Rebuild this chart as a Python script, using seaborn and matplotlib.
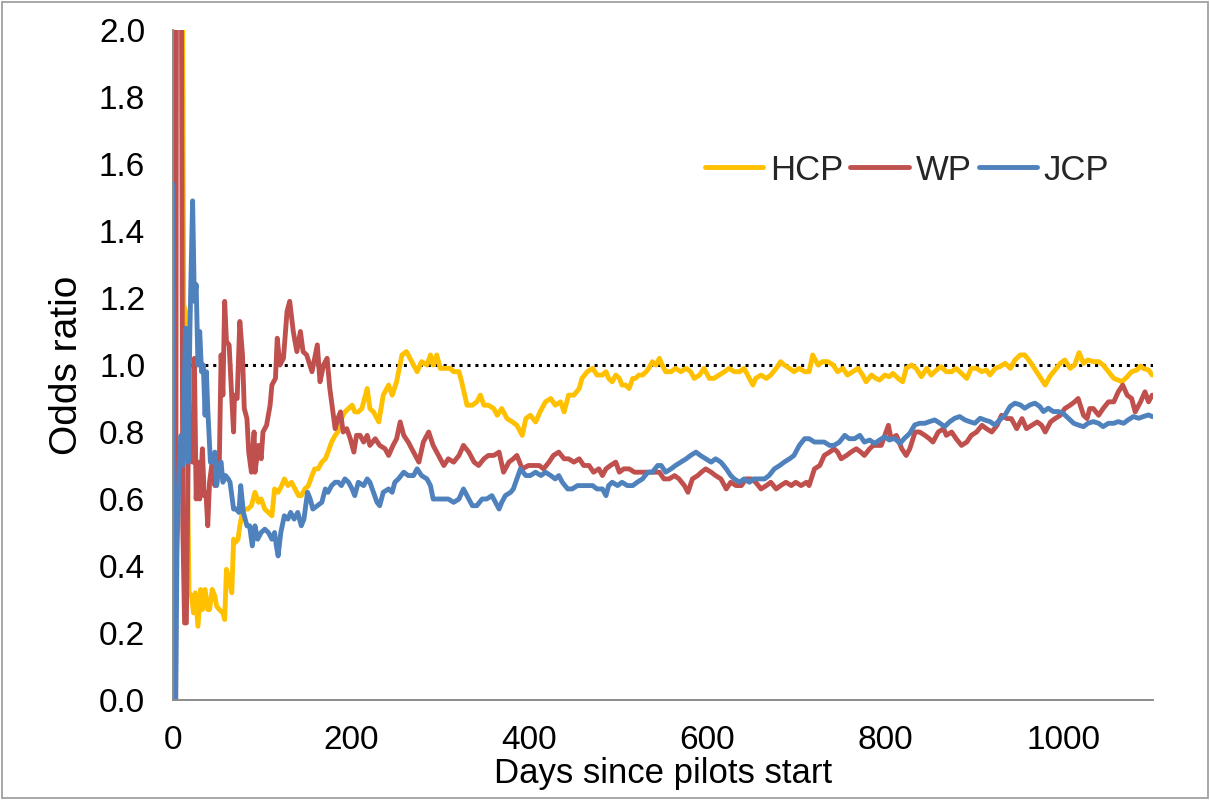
import pandas as pd
import matplotlib
matplotlib.use("Agg")
import matplotlib.pyplot as plt
from matplotlib.patches import Rectangle
import seaborn as sns

# ---- data: cumulative odds ratio (day, value) by days since pilots started ----
series_names = ["HCP", "WP", "JCP"]

hcp_points = [
    (0, 0.19), (1, 2.6), (10, 2.6), (12, 1.18), (14, 1.16), (16, 0.75), (18, 0.32), (21, 0.31), (23, 0.26),
    (25, 0.32), (28, 0.22), (31, 0.33), (33, 0.27), (36, 0.33), (39, 0.27), (41, 0.27), (44, 0.33), (47, 0.31),
    (49, 0.28), (52, 0.27), (56, 0.26), (58, 0.24), (60, 0.39), (63, 0.36), (66, 0.32), (68, 0.48), (70, 0.47),
    (73, 0.48), (75, 0.52), (78, 0.56), (80, 0.57), (84, 0.57), (88, 0.58), (92, 0.62), (96, 0.59), (99, 0.60),
    (103, 0.57), (107, 0.56), (111, 0.55), (114, 0.63), (118, 0.62), (122, 0.64), (125, 0.66), (129, 0.64),
    (133, 0.65), (137, 0.63), (141, 0.61), (144, 0.61), (148, 0.63), (152, 0.64), (156, 0.67), (159, 0.69),
    (163, 0.69), (167, 0.71), (171, 0.72), (174, 0.74), (178, 0.77), (182, 0.79), (185, 0.80), (189, 0.84),
    (193, 0.86), (197, 0.87), (201, 0.88), (204, 0.86), (208, 0.86), (212, 0.87), (218, 0.93), (221, 0.87),
    (225, 0.86), (231, 0.83), (236, 0.91), (242, 0.94), (246, 0.91), (251, 0.95), (257, 1.03), (262, 1.04),
    (268, 1.01), (274, 0.98), (279, 1.01), (285, 1.00), (289, 1.03), (292, 1.00), (296, 1.03), (300, 0.99),
    (306, 0.99), (311, 0.99), (315, 0.98), (321, 0.98), (324, 0.95), (330, 0.88), (336, 0.88), (341, 0.89),
    (345, 0.91), (349, 0.88), (354, 0.88), (360, 0.87), (364, 0.85), (369, 0.87), (375, 0.84), (381, 0.83),
    (386, 0.82), (392, 0.79), (396, 0.84), (401, 0.85), (407, 0.83), (412, 0.86), (418, 0.89), (424, 0.90),
    (429, 0.88), (435, 0.89), (439, 0.86), (444, 0.91), (450, 0.91), (456, 0.93), (459, 0.96), (465, 0.98),
    (471, 0.99), (476, 0.97), (482, 0.97), (486, 0.98), (489, 0.96), (493, 0.95), (497, 0.97), (501, 0.96),
    (504, 0.94), (508, 0.94), (512, 0.93), (516, 0.96), (519, 0.96), (523, 0.97), (527, 0.97), (531, 0.98),
    (534, 0.99), (538, 1.01), (542, 1.00), (546, 1.02), (549, 1.00), (553, 0.98), (559, 0.98), (564, 0.99),
    (570, 0.98), (576, 0.99), (581, 0.98), (585, 0.96), (591, 0.97), (596, 0.99), (602, 0.96), (607, 0.96),
    (613, 0.97), (619, 0.98), (624, 0.99), (630, 0.98), (636, 0.98), (641, 0.99), (645, 0.97), (651, 0.94),
    (654, 0.96), (660, 0.97), (666, 0.96), (671, 0.97), (677, 0.99), (682, 1.01), (686, 1.00), (692, 0.99),
    (697, 0.98), (703, 0.99), (709, 0.98), (714, 0.98), (718, 1.03), (724, 1.00), (729, 1.01), (735, 1.01),
    (741, 1.00), (746, 0.98), (752, 0.99), (757, 0.97), (763, 0.98), (769, 0.99), (774, 0.97), (778, 0.95),
    (784, 0.97), (789, 0.96), (793, 0.955), (799, 0.97), (804, 0.965), (808, 0.975), (814, 0.96), (819, 0.95),
    (823, 0.99), (829, 1.00), (834, 0.99), (840, 0.965), (846, 0.99), (851, 0.97), (857, 0.985), (862, 0.995),
    (868, 0.98), (874, 0.98), (879, 0.99), (885, 0.975), (891, 0.96), (896, 0.99), (902, 0.99), (908, 0.98),
    (913, 0.985), (917, 0.97), (923, 0.99), (928, 0.995), (934, 1.005), (940, 0.99), (945, 1.015), (951, 1.03),
    (956, 1.03), (962, 1.01), (968, 0.985), (973, 0.965), (979, 0.94), (984, 0.965), (990, 0.985), (996, 1.005),
    (1001, 1.015), (1007, 0.99), (1012, 1.00), (1017, 1.037), (1022, 1.005), (1027, 1.015), (1033, 1.01),
    (1039, 1.01), (1044, 1.00), (1050, 0.98), (1056, 0.96), (1061, 0.955), (1065, 0.95), (1071, 0.965),
    (1076, 0.98), (1082, 0.985), (1086, 0.997), (1089, 0.99), (1095, 0.985), (1099, 0.97),
]

wp_points = [
    (3, 0.0), (4, 2.6), (7, 2.6), (9, 2.6), (11, 0.52), (13, 0.23), (15, 0.23), (17, 0.71), (19, 0.78),
    (22, 0.71), (24, 1.02), (26, 0.60), (28, 0.71), (30, 0.60), (33, 0.75), (35, 0.61), (37, 0.62), (39, 0.52),
    (41, 0.65), (44, 0.71), (47, 0.64), (49, 0.71), (52, 0.71), (54, 1.03), (56, 0.91), (58, 1.19), (60, 1.07),
    (63, 1.06), (66, 0.90), (68, 0.80), (69, 0.91), (72, 0.90), (75, 1.13), (78, 1.03), (80, 0.87), (83, 0.84),
    (85, 0.74), (88, 0.68), (91, 0.80), (92, 0.68), (94, 0.72), (96, 0.76), (99, 0.72), (101, 0.80), (105, 0.82),
    (109, 0.88), (111, 0.94), (115, 0.96), (117, 1.08), (120, 1.00), (124, 1.02), (128, 1.16), (131, 1.19),
    (135, 1.10), (139, 1.04), (143, 1.10), (146, 1.04), (150, 1.03), (156, 0.98), (162, 1.06), (165, 0.95),
    (169, 1.00), (173, 1.02), (176, 0.93), (182, 0.81), (185, 0.84), (188, 0.86), (191, 0.80), (195, 0.81),
    (199, 0.78), (203, 0.74), (206, 0.79), (210, 0.79), (214, 0.77), (218, 0.79), (221, 0.76), (227, 0.78),
    (232, 0.76), (238, 0.75), (242, 0.73), (247, 0.76), (251, 0.78), (255, 0.83), (259, 0.79), (264, 0.77),
    (270, 0.74), (276, 0.71), (281, 0.77), (287, 0.80), (292, 0.76), (298, 0.73), (304, 0.70), (309, 0.72),
    (315, 0.71), (321, 0.73), (326, 0.76), (332, 0.74), (338, 0.71), (343, 0.70), (349, 0.72), (354, 0.73),
    (360, 0.73), (366, 0.74), (371, 0.68), (377, 0.71), (382, 0.72), (386, 0.73), (392, 0.69), (399, 0.70),
    (405, 0.70), (411, 0.70), (416, 0.69), (422, 0.71), (427, 0.73), (433, 0.74), (439, 0.72), (444, 0.72),
    (450, 0.71), (456, 0.72), (461, 0.70), (467, 0.70), (472, 0.68), (478, 0.69), (482, 0.67), (486, 0.69),
    (491, 0.70), (497, 0.71), (501, 0.68), (506, 0.69), (512, 0.69), (518, 0.68), (523, 0.68), (529, 0.68),
    (534, 0.68), (540, 0.68), (546, 0.68), (551, 0.66), (557, 0.66), (563, 0.67), (568, 0.66), (574, 0.64),
    (578, 0.62), (583, 0.66), (589, 0.67), (593, 0.68), (598, 0.69), (604, 0.68), (609, 0.67), (615, 0.66),
    (621, 0.63), (626, 0.65), (632, 0.64), (638, 0.64), (643, 0.66), (649, 0.66), (654, 0.65), (660, 0.63),
    (666, 0.64), (671, 0.65), (677, 0.63), (682, 0.64), (688, 0.65), (694, 0.64), (699, 0.65), (705, 0.64),
    (711, 0.65), (714, 0.64), (720, 0.69), (726, 0.70), (731, 0.73), (737, 0.74), (742, 0.75), (746, 0.74),
    (750, 0.72), (756, 0.73), (761, 0.74), (767, 0.75), (772, 0.74), (776, 0.73), (782, 0.75), (786, 0.76),
    (790, 0.76), (795, 0.76), (799, 0.79), (803, 0.82), (806, 0.78), (812, 0.79), (818, 0.75), (823, 0.73),
    (827, 0.75), (833, 0.80), (838, 0.80), (844, 0.79), (849, 0.78), (853, 0.77), (859, 0.80), (865, 0.81),
    (868, 0.79), (874, 0.80), (879, 0.78), (885, 0.76), (891, 0.77), (896, 0.79), (902, 0.80), (908, 0.82),
    (913, 0.81), (919, 0.80), (925, 0.82), (930, 0.85), (936, 0.84), (941, 0.84), (947, 0.81), (953, 0.84),
    (958, 0.81), (964, 0.82), (970, 0.83), (975, 0.82), (979, 0.80), (985, 0.83), (990, 0.84), (996, 0.85),
    (1001, 0.87), (1007, 0.88), (1012, 0.89), (1016, 0.90), (1022, 0.85), (1026, 0.84), (1029, 0.87),
    (1033, 0.87), (1039, 0.85), (1044, 0.87), (1050, 0.89), (1056, 0.89), (1061, 0.92), (1066, 0.94),
    (1071, 0.91), (1076, 0.90), (1080, 0.86), (1086, 0.89), (1091, 0.92), (1095, 0.89), (1099, 0.91),
]

jcp_points = [
    (0, 1.54), (1, 0.0), (3, 0.0), (4.5, 0.45), (7, 0.71), (9, 0.79), (11, 0.70), (14, 1.11), (17, 0.71),
    (19, 1.11), (22, 1.49), (24, 1.19), (26, 1.24), (28, 1.00), (30, 1.10), (32, 0.98), (34, 1.00), (36, 0.85),
    (37.5, 0.98), (39, 0.87), (42, 0.71), (44, 0.71), (47, 0.74), (49, 0.64), (52, 0.70), (54, 0.71), (56, 0.65),
    (59, 0.67), (62, 0.66), (64, 0.65), (66, 0.61), (68, 0.57), (71, 0.57), (74, 0.56), (76, 0.64), (79, 0.56),
    (83, 0.52), (86, 0.52), (89, 0.46), (92, 0.52), (95, 0.48), (99, 0.50), (103, 0.51), (107, 0.50), (111, 0.48),
    (114, 0.50), (116, 0.46), (118, 0.43), (121, 0.50), (125, 0.55), (129, 0.54), (132, 0.56), (136, 0.54),
    (140, 0.56), (144, 0.52), (147, 0.54), (151, 0.62), (154, 0.60), (157, 0.57), (162, 0.58), (167, 0.59),
    (171, 0.63), (174, 0.62), (178, 0.64), (182, 0.65), (185.6, 0.65), (189, 0.64), (193, 0.66), (197, 0.65),
    (201, 0.63), (204, 0.61), (208, 0.65), (214, 0.64), (218, 0.66), (221, 0.65), (225, 0.62), (229, 0.59),
    (232, 0.58), (236, 0.62), (242, 0.63), (246, 0.62), (249, 0.65), (253, 0.66), (259, 0.68), (264, 0.67),
    (270, 0.67), (274, 0.69), (279, 0.67), (285, 0.66), (289, 0.64), (292, 0.60), (298, 0.60), (304, 0.60),
    (309, 0.60), (315, 0.59), (321, 0.60), (326, 0.63), (332, 0.60), (336, 0.58), (341, 0.58), (347, 0.60),
    (352, 0.60), (358, 0.61), (362, 0.59), (366, 0.57), (369, 0.59), (373, 0.61), (379, 0.62), (382, 0.63),
    (386, 0.66), (390, 0.69), (396, 0.67), (401, 0.67), (407, 0.68), (413, 0.67), (418, 0.68), (424, 0.67),
    (429, 0.66), (433, 0.67), (437, 0.65), (443, 0.63), (448, 0.63), (454, 0.64), (459, 0.64), (465, 0.64),
    (471, 0.64), (476, 0.63), (482, 0.63), (486, 0.61), (489, 0.64), (493, 0.65), (499, 0.64), (504, 0.65),
    (510, 0.64), (516, 0.64), (521, 0.65), (527, 0.66), (533, 0.68), (538, 0.68), (544, 0.70), (548, 0.70),
    (553, 0.68), (559, 0.69), (564, 0.70), (570, 0.71), (576, 0.72), (581, 0.73), (587, 0.74), (592, 0.73),
    (598, 0.72), (604, 0.71), (609, 0.72), (615, 0.71), (621, 0.69), (626, 0.67), (630, 0.66), (636, 0.65),
    (641, 0.66), (647, 0.65), (652, 0.66), (658, 0.66), (664, 0.66), (669, 0.67), (675, 0.69), (681, 0.70),
    (686, 0.71), (692, 0.72), (697, 0.73), (703, 0.76), (709, 0.78), (714, 0.78), (720, 0.77), (726, 0.77),
    (731, 0.77), (737, 0.76), (742, 0.76), (748, 0.77), (754, 0.79), (759, 0.78), (765, 0.78), (771, 0.79),
    (776, 0.77), (782, 0.776), (787.5, 0.766), (793, 0.776), (799, 0.786), (804, 0.776), (810, 0.781),
    (816, 0.766), (821, 0.781), (827, 0.796), (832.5, 0.821), (838, 0.826), (844, 0.826), (849, 0.831),
    (855, 0.836), (861, 0.826), (866, 0.816), (872, 0.831), (877.5, 0.841), (883, 0.846), (889, 0.836),
    (894, 0.831), (900, 0.826), (906, 0.841), (911, 0.836), (917, 0.831), (922.5, 0.821), (928, 0.836),
    (934, 0.851), (939.5, 0.876), (945, 0.886), (951, 0.881), (956, 0.871), (962, 0.881), (967.5, 0.886),
    (973, 0.876), (977, 0.861), (982.5, 0.871), (988, 0.861), (994, 0.861), (999, 0.856), (1005, 0.841),
    (1011, 0.826), (1016, 0.821), (1022, 0.816), (1027, 0.826), (1033, 0.831), (1039, 0.826), (1044, 0.816),
    (1050, 0.826), (1056, 0.826), (1061, 0.831), (1067, 0.826), (1072, 0.836), (1078, 0.846), (1084, 0.841),
    (1089, 0.846), (1095, 0.851), (1099, 0.846),
]

x_ticks = [0, 200, 400, 600, 800, 1000]
y_ticks = [0.0, 0.2, 0.4, 0.6, 0.8, 1.0, 1.2, 1.4, 1.6, 1.8, 2.0]
reference_level = 1.0

colors = {"HCP": "#FFC000", "WP": "#C0504D", "JCP": "#4F81BD"}
axis_grey = "#8c8c8c"

# ---- long-form table ----
frames = []
for name, pts in zip(series_names, [hcp_points, wp_points, jcp_points]):
    frames.append(pd.DataFrame(pts, columns=["day", "odds"]).assign(series=name))
df = pd.concat(frames, ignore_index=True)

sns.set_theme(style="white")
plt.rcParams["font.family"] = ["Liberation Sans", "DejaVu Sans"]

W, H = 1210, 800
fig = plt.figure(figsize=(W / 100, H / 100), dpi=100)
# plot area in pixels: x 173..1153, y 30..700
ax = fig.add_axes([173 / W, 1 - 700 / H, 980 / W, 670 / H])

ax.axhline(reference_level, color="black", linestyle=(0, (1, 1.6)), linewidth=2.2, zorder=1)

sns.lineplot(data=df, x="day", y="odds", hue="series", hue_order=series_names,
             palette=colors, estimator=None, sort=False, linewidth=3.5, ax=ax, zorder=2)

ax.set_xlim(0, 1100)
ax.set_ylim(0, 2.0)
ax.set_xticks(x_ticks)
ax.set_yticks(y_ticks)
ax.set_xticklabels([str(t) for t in x_ticks])
ax.set_yticklabels([f"{t:.1f}" for t in y_ticks])

for side in ["top", "right"]:
    ax.spines[side].set_visible(False)
for side in ["left", "bottom"]:
    ax.spines[side].set_color(axis_grey)
    ax.spines[side].set_linewidth(1.4)

ax.tick_params(axis="both", which="major", direction="out", length=7, width=1.4,
               color=axis_grey, labelsize=24, labelcolor="black")
ax.tick_params(axis="y", pad=13)
ax.tick_params(axis="x", pad=11)
ax.grid(False)

ax.set_xlabel("Days since pilots start", fontsize=25, color="black", labelpad=1)
ax.set_ylabel("Odds ratio", fontsize=28, color="black", labelpad=10)

handles, labels = ax.get_legend_handles_labels()
ax.legend(handles, labels, loc="center left", bbox_to_anchor=(705 / W, 1 - 170 / H),
          bbox_transform=fig.transFigure, ncol=3, frameon=False, fontsize=25,
          handlelength=1.68, handletextpad=0.2, columnspacing=0.2, borderpad=0, borderaxespad=0)

# thin frame around the whole figure
fig.patches.append(Rectangle((2 / W, 2 / H), 1 - 4 / W, 1 - 4 / H, transform=fig.transFigure,
                             fill=False, edgecolor="#a0a0a0", linewidth=1.3))

fig.savefig("out.png", dpi=100)
